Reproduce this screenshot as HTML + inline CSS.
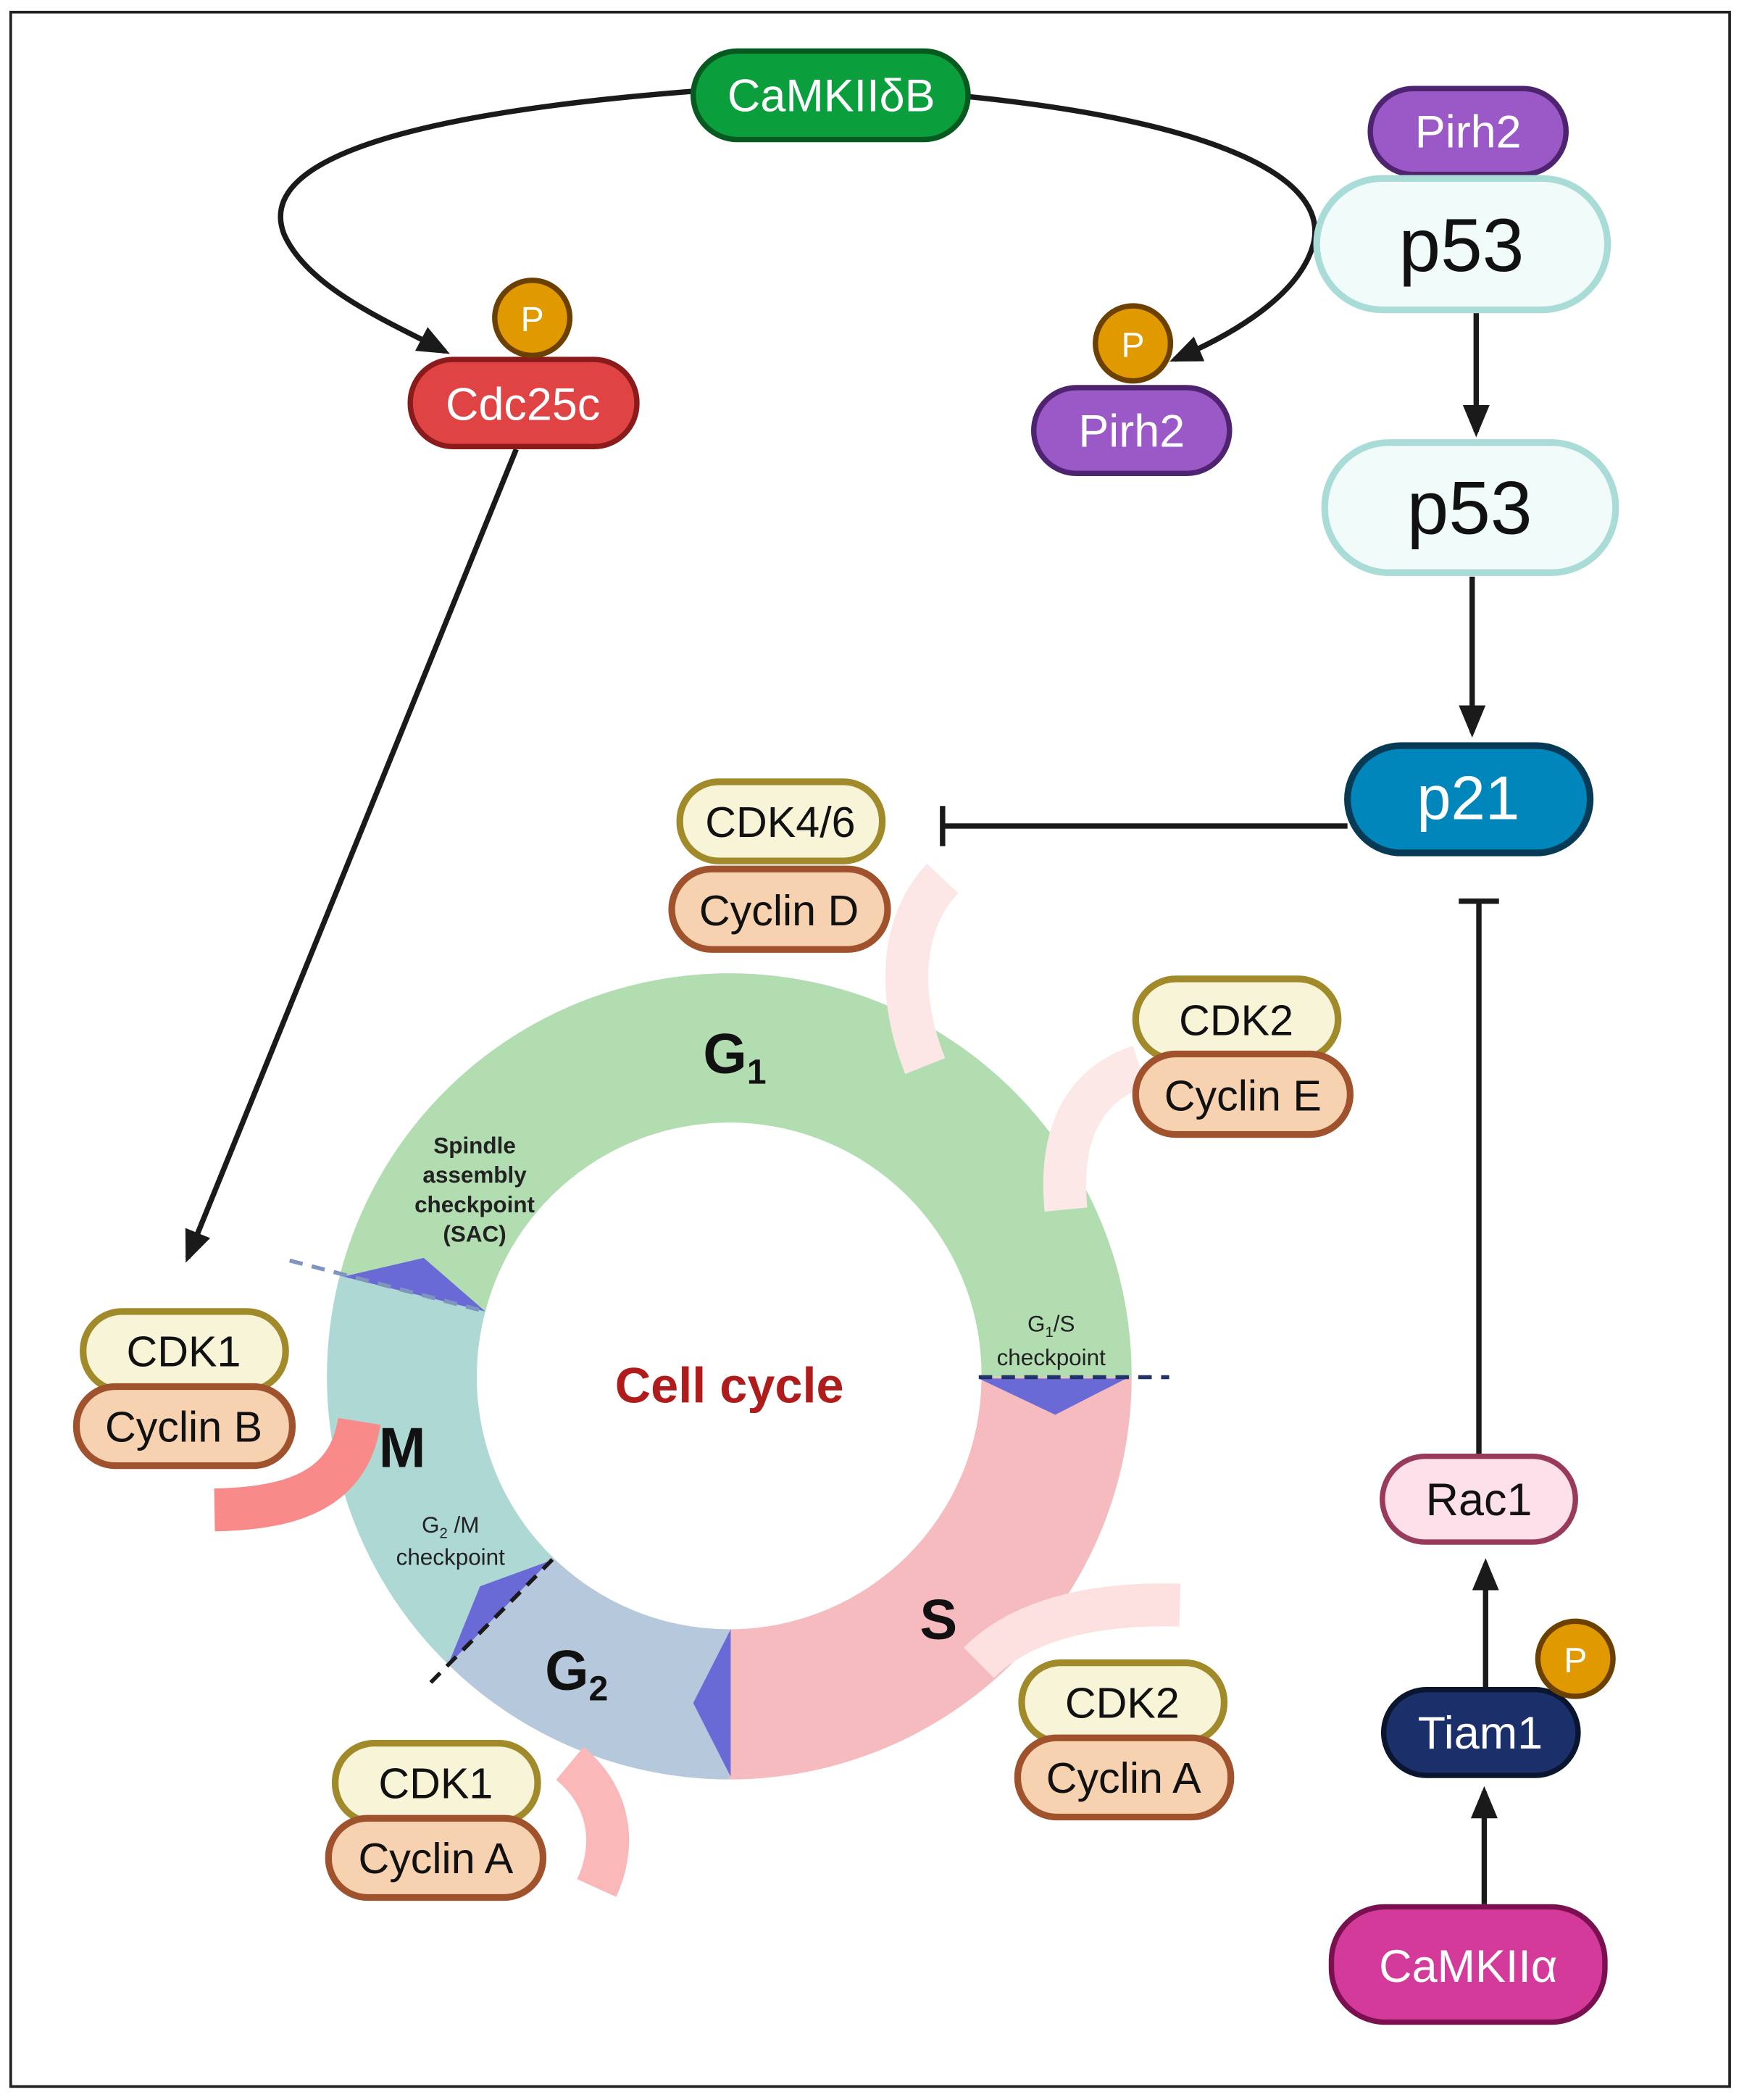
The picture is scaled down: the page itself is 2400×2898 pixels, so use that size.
<!DOCTYPE html>
<html><head><meta charset="utf-8"><style>
html,body{margin:0;padding:0;background:#fff}
svg{display:block}
text{font-family:"Liberation Sans",sans-serif}
</style></head><body>
<svg width="2400" height="2898" viewBox="0 0 1297 1566" xmlns="http://www.w3.org/2000/svg">
<defs>
<marker id="ah" markerWidth="10" markerHeight="10" refX="7" refY="5" orient="auto" markerUnits="userSpaceOnUse" viewBox="0 0 10 10">
<path d="M0,0 L10,5 L0,10 z" fill="#1a1a1a"/></marker>
<marker id="ah2" markerWidth="24" markerHeight="24" refX="20" refY="12" orient="auto" markerUnits="userSpaceOnUse"><path d="M0,2 L24,12 L0,22 z" fill="#1a1a1a"/></marker>
</defs>
<rect x="8" y="9" width="1282" height="1547" fill="#fff" stroke="#222" stroke-width="2"/>

<!-- curves -->
<path d="M517,68 C300,85 190,120 212,175 C230,215 290,240 332,262" fill="none" stroke="#1a1a1a" stroke-width="4" marker-end="url(#ah2)"/>
<path d="M722,72 C900,90 990,130 980,180 C972,215 930,245 876,268" fill="none" stroke="#1a1a1a" stroke-width="4" marker-end="url(#ah2)"/>
<path d="M385,335 L140,938" stroke="#1a1a1a" stroke-width="4" marker-end="url(#ah2)"/>
<path d="M1101,233 L1101,322" stroke="#1a1a1a" stroke-width="4" marker-end="url(#ah2)"/>
<path d="M1098,430 L1098,546" stroke="#1a1a1a" stroke-width="4" marker-end="url(#ah2)"/>
<path d="M1005,616 L703,616 M703,601 L703,631" stroke="#1a1a1a" stroke-width="4"/>
<path d="M1103,1084 L1103,672 M1088,672 L1118,672" stroke="#1a1a1a" stroke-width="4"/>
<path d="M1108,1258 L1108,1166" stroke="#1a1a1a" stroke-width="4" marker-end="url(#ah2)"/>
<path d="M1107,1420 L1107,1336" stroke="#1a1a1a" stroke-width="4" marker-end="url(#ah2)"/>

<!-- ring -->
<path d="M254,949 A300,300 0 0 1 844,1027 L732,1027 A188,188 0 0 0 362,978 Z" fill="#b2ddb0"/>
<path d="M844,1027 A300,300 0 0 1 544,1327 L544,1215 A188,188 0 0 0 732,1027 Z" fill="#f5bbbf"/>
<path d="M544,1327 A300,300 0 0 1 332,1239 L411,1160 A188,188 0 0 0 544,1215 Z" fill="#b6c9dc"/>
<path d="M332,1239 A300,300 0 0 1 254,949 L362,978 A188,188 0 0 0 411,1160 Z" fill="#aed8d3"/>

<!-- faded cyclin arcs -->
<path d="M703,655 C670,690 670,745 690,795" fill="none" stroke="#fde6e6" stroke-width="32" stroke-linecap="butt"/>
<path d="M850,795 C805,810 790,850 795,902" fill="none" stroke="#fde8e8" stroke-width="32"/>
<path d="M880,1197 C810,1195 760,1210 730,1240" fill="none" stroke="#fde0e0" stroke-width="32"/>
<path d="M425,1315 C455,1340 460,1375 445,1408" fill="none" stroke="#fbb8b8" stroke-width="32"/>
<path d="M268,1060 C260,1110 220,1125 160,1126" fill="none" stroke="#f88a8a" stroke-width="32"/>

<!-- triangles -->
<polygon points="730,1028 840,1028 787,1055" fill="#6a6ad6"/>
<polygon points="545,1215 545,1325 517,1270" fill="#6a6ad6"/>
<polygon points="410,1164 334,1242 358,1183" fill="#6a6ad6"/>
<polygon points="256,952 362,978 316,938" fill="#6a6ad6"/>
<path d="M216,940 L362,978" stroke="#7f95c0" stroke-width="3" stroke-dasharray="10,7"/>
<path d="M730,1027 L872,1027" stroke="#223366" stroke-width="3" stroke-dasharray="10,7"/>
<path d="M412,1163 L318,1258" stroke="#1a1a1a" stroke-width="3" stroke-dasharray="10,7"/>

<!-- ring labels -->
<text x="548" y="800" font-size="42" font-weight="bold" text-anchor="middle" fill="#111">G<tspan font-size="26" dy="8">1</tspan></text>
<text x="700" y="1222" font-size="42" font-weight="bold" text-anchor="middle" fill="#111">S</text>
<text x="430" y="1260" font-size="42" font-weight="bold" text-anchor="middle" fill="#111">G<tspan font-size="26" dy="8">2</tspan></text>
<text x="300" y="1094" font-size="42" font-weight="bold" text-anchor="middle" fill="#111">M</text>
<text x="544" y="1046" font-size="37" font-weight="bold" text-anchor="middle" fill="#b01c1c">Cell cycle</text>
<g font-size="17" font-weight="bold" text-anchor="middle" fill="#222">
<text x="354" y="860">Spindle</text><text x="354" y="882">assembly</text><text x="354" y="904">checkpoint</text><text x="354" y="926">(SAC)</text></g>
<g font-size="17" text-anchor="middle" fill="#222">
<text x="784" y="993">G<tspan font-size="11" dy="4">1</tspan><tspan dy="-4">/S</tspan></text><text x="784" y="1018">checkpoint</text>
<text x="336" y="1143">G<tspan font-size="11" dy="4">2</tspan><tspan dy="-4"> /M</tspan></text><text x="336" y="1167">checkpoint</text></g>

<!-- nodes -->
<g font-size="34" text-anchor="middle">
<rect x="517" y="38" width="205" height="66" rx="33" fill="#0b9e3c" stroke="#06591f" stroke-width="4"/>
<text x="620" y="83" fill="#fff">CaMKIIδB</text>
<rect x="306" y="268" width="169" height="65" rx="32" fill="#e04343" stroke="#8b1a1a" stroke-width="4"/>
<text x="390" y="313" fill="#fff">Cdc25c</text>
<rect x="771" y="289" width="146" height="64" rx="32" fill="#9b59c8" stroke="#4e2470" stroke-width="4"/>
<text x="844" y="333" fill="#fff">Pirh2</text>
<rect x="1022" y="66" width="146" height="64" rx="32" fill="#9b59c8" stroke="#4e2470" stroke-width="4"/>
<text x="1095" y="110" fill="#fff">Pirh2</text>
<rect x="982" y="133" width="217" height="98" rx="49" fill="#f0fbfa" stroke="#a9dcd6" stroke-width="5"/>
<text x="1090" y="202" font-size="56" fill="#111">p53</text>
<rect x="988" y="330" width="217" height="97" rx="48" fill="#f0fbfa" stroke="#a9dcd6" stroke-width="5"/>
<text x="1096" y="398" font-size="56" fill="#111">p53</text>
<rect x="1005" y="556" width="181" height="80" rx="40" fill="#0086ba" stroke="#073b55" stroke-width="5"/>
<text x="1095" y="611" font-size="46" fill="#fff">p21</text>
<rect x="1031" y="1086" width="144" height="64" rx="32" fill="#fde0ea" stroke="#9a3a5a" stroke-width="4"/>
<text x="1103" y="1130" fill="#111">Rac1</text>
<rect x="1032" y="1260" width="145" height="64" rx="32" fill="#1b2f6b" stroke="#0a1530" stroke-width="4"/>
<text x="1104" y="1304" fill="#fff">Tiam1</text>
<rect x="993" y="1422" width="204" height="86" rx="40" fill="#d43a9a" stroke="#7a1050" stroke-width="4"/>
<text x="1095" y="1478" fill="#fff">CaMKIIα</text>

<g font-size="32" fill="#111">
<rect x="507" y="583" width="151" height="59" rx="29" fill="#f7f4d8" stroke="#a08a2a" stroke-width="5"/><text x="582" y="624">CDK4/6</text>
<rect x="501" y="648" width="161" height="60" rx="30" fill="#f7d2b0" stroke="#a0522d" stroke-width="5"/><text x="581" y="690">Cyclin D</text>
<rect x="847" y="730" width="151" height="60" rx="30" fill="#f7f4d8" stroke="#a08a2a" stroke-width="5"/><text x="922" y="772">CDK2</text>
<rect x="847" y="786" width="160" height="60" rx="30" fill="#f7d2b0" stroke="#a0522d" stroke-width="5"/><text x="927" y="828">Cyclin E</text>
<rect x="62" y="978" width="151" height="59" rx="29" fill="#f7f4d8" stroke="#a08a2a" stroke-width="5"/><text x="137" y="1019">CDK1</text>
<rect x="57" y="1034" width="161" height="59" rx="29" fill="#f7d2b0" stroke="#a0522d" stroke-width="5"/><text x="137" y="1075">Cyclin B</text>
<rect x="762" y="1240" width="151" height="59" rx="29" fill="#f7f4d8" stroke="#a08a2a" stroke-width="5"/><text x="837" y="1281">CDK2</text>
<rect x="759" y="1296" width="159" height="59" rx="29" fill="#f7d2b0" stroke="#a0522d" stroke-width="5"/><text x="838" y="1337">Cyclin A</text>
<rect x="250" y="1300" width="151" height="59" rx="29" fill="#f7f4d8" stroke="#a08a2a" stroke-width="5"/><text x="325" y="1341">CDK1</text>
<rect x="245" y="1356" width="160" height="59" rx="29" fill="#f7d2b0" stroke="#a0522d" stroke-width="5"/><text x="325" y="1397">Cyclin A</text>
</g>

<g font-size="26" fill="#fff">
<circle cx="397" cy="237" r="28" fill="#e09a00" stroke="#6b4000" stroke-width="4"/><text x="397" y="247">P</text>
<circle cx="845" cy="256" r="28" fill="#e09a00" stroke="#6b4000" stroke-width="4"/><text x="845" y="266">P</text>
<circle cx="1175" cy="1237" r="28" fill="#e09a00" stroke="#6b4000" stroke-width="4"/><text x="1175" y="1247">P</text>
</g>
</g>
</svg>
</body></html>
